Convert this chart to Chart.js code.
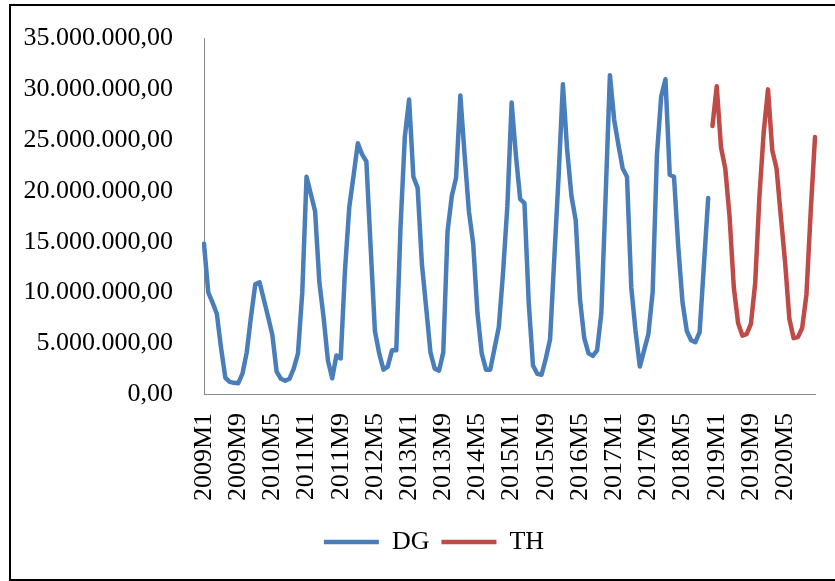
<!DOCTYPE html>
<html><head><meta charset="utf-8">
<script src="https://cdn.jsdelivr.net/npm/chart.js@4"></script>
<style>
html,body{margin:0;padding:0;background:#fff;overflow:hidden;width:835px;height:581px;}
#frame{position:absolute;left:9px;top:4px;width:900px;height:577px;border:2px solid #000;box-sizing:border-box;}
#c{position:absolute;left:0;top:0;}
</style></head><body>
<div id="frame"></div>
<canvas id="c" width="868" height="581"></canvas>
<script>
// Categories: monthly 2009M1 .. 2020M12
const years = [2009,2010,2011,2012,2013,2014,2015,2016,2017,2018,2019,2020];
const categories = [];
years.forEach(y => { for (let m = 1; m <= 12; m++) categories.push(y + 'M' + m); });

// Series values (millions)
const DG = [
  14.8, 10.0, 9.0, 7.9, 4.5, 1.6, 1.2, 1.1, 1.05, 2.0, 4.1, 7.6,
  10.8, 11.0, 9.3, 7.6, 5.8, 2.2, 1.5, 1.3, 1.5, 2.5, 4.0, 10.0,
  21.4, 19.7, 18.0, 11.0, 7.5, 3.3, 1.55, 3.8, 3.5, 12.2, 18.4, 21.5,
  24.7, 23.6, 22.9, 14.5, 6.2, 4.0, 2.4, 2.7, 4.3, 4.3, 16.5, 25.3,
  29.0, 21.4, 20.3, 12.8, 8.5, 4.1, 2.5, 2.3, 4.1, 16.0, 19.5, 21.3,
  29.4, 23.5, 18.0, 14.8, 8.0, 4.0, 2.4, 2.4, 4.5, 6.6, 12.0, 18.5,
  28.7, 23.5, 19.2, 18.8, 9.0, 2.8, 2.0, 1.9, 3.5, 5.4, 13.5, 21.5,
  30.5, 24.0, 19.5, 17.1, 9.3, 5.5, 4.0, 3.75, 4.3, 8.0, 19.5, 31.4,
  27.0, 24.5, 22.2, 21.4, 10.5, 6.2, 2.7, 4.3, 5.9, 10.0, 23.5, 29.3,
  31.0, 21.6, 21.4, 14.5, 9.0, 6.2, 5.3, 5.1, 6.1, 12.7, 19.3
];
const TH = [
  26.4,
  30.3, 24.3, 22.2, 17.5, 10.5, 7.0, 5.75, 5.9, 6.9, 10.9, 19.5, 25.8,
  30.0, 24.0, 22.2, 17.5, 13.0, 7.4, 5.5, 5.6, 6.5, 9.8, 18.0, 25.3
];
const yTicks = [0, 5, 10, 15, 20, 25, 30, 35];
const labelEvery = 8;

const dgData = DG.concat(new Array(categories.length - DG.length).fill(null));
const thData = new Array(categories.length - TH.length).fill(null).concat(TH);

function fmt(n) {
  const s = Math.round(n).toString().replace(/\B(?=(\d{3})+(?!\d))/g, '.');
  return s + ',00';
}

const font = {family: 'Liberation Serif', size: 26};

new Chart(document.getElementById('c'), {
  type: 'line',
  data: {
    labels: categories,
    datasets: [
      {label: 'DG', data: dgData, borderColor: '#4A7EBB', backgroundColor: '#4A7EBB',
       borderWidth: 4.5, pointRadius: 0, tension: 0, borderJoinStyle: 'round', borderCapStyle: 'round'},
      {label: 'TH', data: thData, borderColor: '#BE4B48', backgroundColor: '#BE4B48',
       borderWidth: 4.5, pointRadius: 0, tension: 0, borderJoinStyle: 'round', borderCapStyle: 'round'}
    ]
  },
  options: {
    responsive: false,
    animation: false,
    devicePixelRatio: 1,
    layout: {autoPadding: false, padding: {left: 0, right: 0, top: 35, bottom: 16}},
    plugins: {
      legend: {
        position: 'bottom',
        labels: {usePointStyle: true, pointStyle: 'line', pointStyleWidth: 55,
                 font: font, color: '#000', padding: 12}
      },
      tooltip: {enabled: false}
    },
    scales: {
      x: {
        grid: {display: false},
        border: {display: true, color: '#898989', width: 1},
        afterBuildTicks: function (s) { s.ticks = s.ticks.filter((t, i) => i % labelEvery === 0); },
        ticks: {
          autoSkip: false, maxRotation: 90, minRotation: 90, padding: 11,
          color: '#000', font: font
        },
        afterFit: function (s) { s.height = 123; }
      },
      y: {
        min: 0, max: 35,
        grid: {display: false},
        border: {display: true, color: '#898989', width: 1},
        afterBuildTicks: function (s) { s.ticks = yTicks.map(v => ({value: v})); },
        ticks: {padding: 23, color: '#000', font: font, callback: v => fmt(v * 1e6)},
        afterFit: function (s) { s.width = 204; }
      },
      yPad: {
        position: 'right',
        min: 0, max: 1,
        grid: {display: false},
        border: {display: false},
        ticks: {display: false},
        afterFit: function (s) { s.width = 53; }
      }
    }
  }
});
</script>
</body></html>
